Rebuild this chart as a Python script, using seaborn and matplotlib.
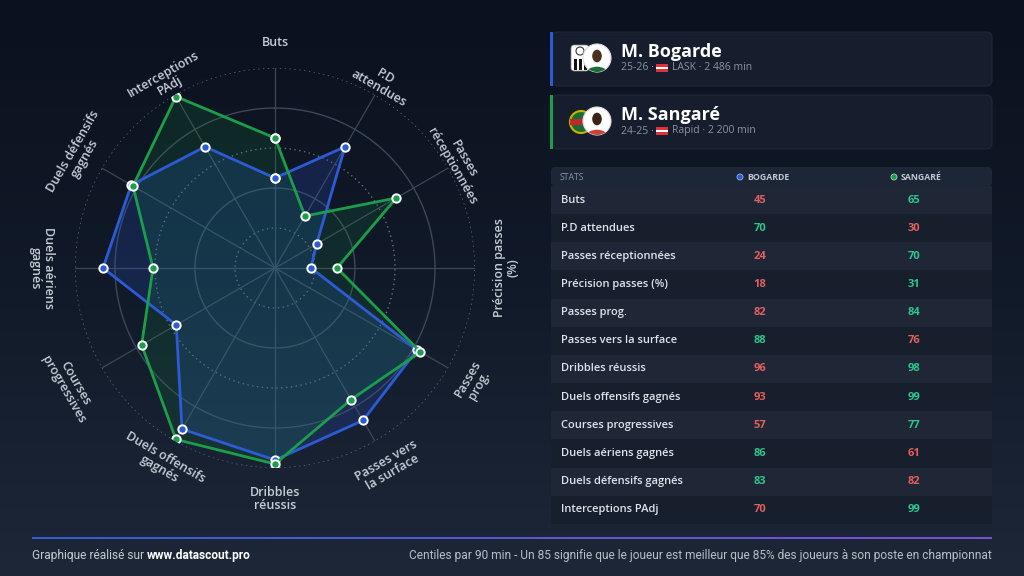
import numpy as np
import pandas as pd
import matplotlib
matplotlib.use("Agg")
import matplotlib.pyplot as plt
import seaborn as sns
from matplotlib.patches import FancyBboxPatch, Rectangle, Circle, Ellipse
from matplotlib.colors import LinearSegmentedColormap

# radar axes, clockwise from the top
axis_labels = ["Buts", "P.D\nattendues", "Passes\nréceptionnées", "Précision passes\n(%)",
               "Passes\nprog.", "Passes vers\nla surface", "Dribbles\nréussis",
               "Duels offensifs\ngagnés", "Courses\nprogressives", "Duels aériens\ngagnés",
               "Duels défensifs\ngagnés", "Interceptions\nPAdj"]
table_labels = ["Buts", "P.D attendues", "Passes réceptionnées", "Précision passes (%)",
                "Passes prog.", "Passes vers la surface", "Dribbles réussis",
                "Duels offensifs gagnés", "Courses progressives", "Duels aériens gagnés",
                "Duels défensifs gagnés", "Interceptions PAdj"]
bogarde = [45, 70, 24, 18, 82, 88, 96, 93, 57, 86, 83, 70]
sangare = [65, 30, 70, 31, 84, 76, 98, 99, 77, 61, 82, 99]

players = ["M. Bogarde", "M. Sangaré"]
seasons = ["25-26", "24-25"]
clubs = ["LASK", "Rapid"]
minutes = ["2 486 min", "2 200 min"]

# distance of each axis label from the centre (radar units, 100 = outer ring)
label_r = [112.5, 107, 105.5, 115.5, 114.5, 114.5, 115.5, 112.5, 118.5, 116.5, 113, 108.5]

BLUE = "#2d5bd6"
GREEN = "#1a9e4a"
VAL_GOOD = "#2fc48a"
VAL_BAD = "#e0605f"

sns.set_theme(style="dark")
plt.rcParams["font.family"] = ["Open Sans", "DejaVu Sans"]

fig = plt.figure(figsize=(10.24, 5.76), dpi=100)

# background + overlay in pixel coords
bg = fig.add_axes([0, 0, 1, 1], zorder=0)
bg.set_xlim(0, 1024)
bg.set_ylim(576, 0)
bg.axis("off")
cmap_bg = LinearSegmentedColormap.from_list("bg", ["#0b111e", "#111a29", "#1d2738"])
bg.imshow(np.linspace(0, 1, 256)[:, None], cmap=cmap_bg, aspect="auto",
          extent=(0, 1024, 576, 0), zorder=0)

# ---- radar ----
n = len(axis_labels)
theta = np.arange(n) * 2 * np.pi / n
rows = []
for name, vals in [("Bogarde", bogarde), ("Sangaré", sangare)]:
    for t, v in zip(list(theta) + [2 * np.pi], vals + vals[:1]):
        rows.append({"player": name, "theta": t, "value": v})
df = pd.DataFrame(rows)

ax = fig.add_axes([75 / 1024, (576 - 468) / 576, 400 / 1024, 400 / 576],
                  projection="polar", zorder=2)
ax.set_facecolor("none")
ax.set_theta_zero_location("N")
ax.set_theta_direction(-1)
ax.set_ylim(0, 100)
ax.grid(False)
ax.spines["polar"].set_visible(False)

circ = np.linspace(0, 2 * np.pi, 300)
for r in [20, 40, 60, 80, 100]:
    if r in (40, 80):
        ax.plot(circ, np.full_like(circ, r), color="#3d4758", lw=1, zorder=1)
    else:
        ax.plot(circ, np.full_like(circ, r), color="#646e80", lw=1, ls=(0, (1, 2.5)), zorder=1)
for t in theta:
    ax.plot([t, t], [0, 100], color="#3c4657", lw=0.9, zorder=1)

for name, color, a in [("Bogarde", BLUE, 0.2), ("Sangaré", GREEN, 0.14)]:
    sub = df[df["player"] == name]
    ax.fill(sub["theta"], sub["value"], color=color, alpha=a, zorder=2)

sns.lineplot(data=df, x="theta", y="value", hue="player",
             palette={"Bogarde": BLUE, "Sangaré": GREEN}, sort=False, estimator=None,
             marker="o", markersize=6, markeredgecolor="white", markeredgewidth=1.4,
             linewidth=2, legend=False, ax=ax, zorder=3)
ax.set_xlabel("")
ax.set_ylabel("")
ax.set_xticks([])
ax.set_yticks([])
ax.set_ylim(0, 100)

for t, lab, lr in zip(theta, axis_labels, label_r):
    deg = np.degrees(t)
    rot = -deg
    if 90 <= deg <= 270:
        rot += 180
    ax.text(t, lr, lab, rotation=rot, rotation_mode="anchor", ha="center", va="center",
            multialignment="center", fontsize=9, fontweight="semibold", color="#c6ccd6",
            linespacing=1.05, clip_on=False)


# ---- player cards ----
def avatar(cx, cy, skin, shirt):
    c = Circle((cx, cy), 14, facecolor="white", edgecolor="#d9dde3", lw=0.8, zorder=3)
    bg.add_patch(c)
    body = Ellipse((cx, cy + 16), 24, 16, facecolor=shirt, zorder=4)
    head = Ellipse((cx, cy - 2), 11, 14, facecolor=skin, zorder=4)
    for p in (body, head):
        bg.add_patch(p)
        p.set_clip_path(c)


def flag(x, y):
    for i, col in enumerate(["#e0303a", "white", "#e0303a"]):
        bg.add_patch(Rectangle((x, y - 4 + i * 2.7), 12, 2.7, facecolor=col, lw=0, zorder=4))


card_y = [32, 95]
accents = [BLUE, GREEN]
for i in range(2):
    y0 = card_y[i]
    bg.add_patch(FancyBboxPatch((552, y0), 440, 54, boxstyle="round,pad=0,rounding_size=6",
                                facecolor="#161e2d", edgecolor="#1f2839", lw=0.8, zorder=2))
    bg.add_patch(Rectangle((550, y0), 3, 54, facecolor=accents[i], lw=0, zorder=3))
    cy = y0 + 26
    if i == 0:
        bg.add_patch(FancyBboxPatch((571, cy - 13), 18, 26, boxstyle="round,pad=0,rounding_size=3",
                                    facecolor="white", edgecolor="#888", lw=0.5, zorder=3))
        bg.add_patch(Circle((580, cy - 7), 4, facecolor="white", edgecolor="#333", lw=0.8, zorder=3))
        for k in range(3):
            bg.add_patch(Rectangle((574 + k * 5, cy + 1), 2.5, 11, facecolor="#111", lw=0, zorder=3))
        avatar(597, cy, "#4a2f22", "#1f6b3a")
    else:
        bg.add_patch(Circle((581, cy + 1), 11, facecolor="#1c6b34", edgecolor="#c8b400", lw=1.5, zorder=3))
        bg.add_patch(Rectangle((570, cy - 2), 16, 6, facecolor="#c0272d", lw=0, zorder=3))
        avatar(597, cy, "#3a2419", "#c8433b")
    bg.text(621, y0 + 20, players[i], fontsize=13, fontweight="bold", color="white",
            va="center", ha="left", zorder=5)
    bg.text(621, y0 + 36, seasons[i] + " ·", fontsize=7.5, color="#8a93a3", va="center", zorder=5)
    flag(656, y0 + 36)
    bg.text(672, y0 + 36, clubs[i] + " · " + minutes[i], fontsize=7.5, color="#8a93a3",
            va="center", zorder=5)

# ---- stats table ----
bg.add_patch(FancyBboxPatch((551, 167), 441, 19, boxstyle="round,pad=0,rounding_size=4",
                            facecolor="#1d2637", lw=0, zorder=2))
bg.text(560, 177, "STATS", fontsize=6.3, color="#8a93a3", va="center", zorder=5)
bg.add_patch(Circle((740, 177), 3, facecolor=BLUE, edgecolor="#9fb3e6", lw=0.6, zorder=5))
bg.text(747, 177, "BOGARDE", fontsize=6.3, fontweight="bold", color="#c2c8d2", va="center", zorder=5)
bg.add_patch(Circle((894, 177), 3, facecolor=GREEN, edgecolor="#9fd8b3", lw=0.6, zorder=5))
bg.text(901, 177, "SANGARÉ", fontsize=6.3, fontweight="bold", color="#c2c8d2", va="center", zorder=5)

row_h = 28.15
for i, lab in enumerate(table_labels):
    top = 186 + i * row_h
    bg.add_patch(Rectangle((551, top), 441, row_h,
                           facecolor="#1f2737" if i % 2 == 0 else "#171e2c", lw=0, zorder=2))
    yc = top + row_h / 2
    b, s = bogarde[i], sangare[i]
    bg.text(561, yc, lab, fontsize=8, fontweight="semibold", color="#dfe3ea", va="center", zorder=5)
    bg.text(760, yc, str(b), fontsize=8, fontweight="bold", va="center", ha="center",
            color=VAL_GOOD if b > s else VAL_BAD, zorder=5)
    bg.text(914, yc, str(s), fontsize=8, fontweight="bold", va="center", ha="center",
            color=VAL_GOOD if s > b else VAL_BAD, zorder=5)

# ---- footer ----
cmap_line = LinearSegmentedColormap.from_list("ln", ["#2f5fd0", "#5a58d4", "#7b4fd0"])
bg.imshow(np.linspace(0, 1, 256)[None, :], cmap=cmap_line, aspect="auto",
          extent=(32, 992, 539, 537.5), zorder=3)
bg.set_xlim(0, 1024)
bg.set_ylim(576, 0)

foot_font = ["Roboto", "DejaVu Sans"]
t1 = bg.text(32, 556, "Graphique réalisé sur ", fontsize=8.6, color="#c5cad3", va="center",
             family=foot_font, zorder=5)
fig.canvas.draw()
ext = t1.get_window_extent()
x_bold = ext.x1 * 1024 / fig.bbox.width
bg.text(x_bold, 556, "www.datascout.pro", fontsize=8.6, fontweight="bold", color="white",
        va="center", family=foot_font, zorder=5)
bg.text(992, 556, "Centiles par 90 min - Un 85 signifie que le joueur est meilleur que 85% "
                  "des joueurs à son poste en championnat",
        fontsize=8.6, color="#b9bfc9", va="center", ha="right", family=foot_font, zorder=5)

fig.savefig("out.png", dpi=100)
